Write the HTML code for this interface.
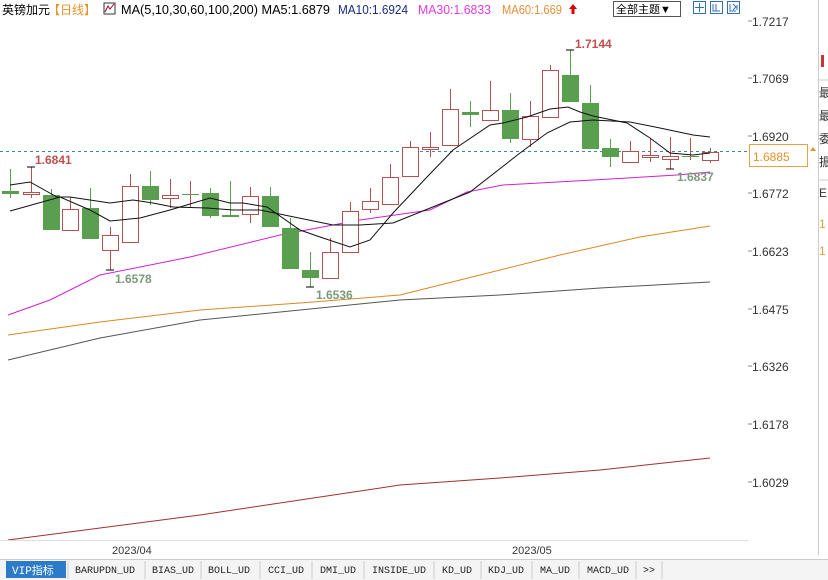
<!DOCTYPE html>
<html><head><meta charset="utf-8">
<style>
body{margin:0;width:828px;height:580px;overflow:hidden;background:#fff;font-family:"Liberation Sans","Noto Sans CJK SC",sans-serif;}
svg{position:absolute;left:0;top:0}
</style></head><body>
<svg id="s" width="828" height="580" xmlns="http://www.w3.org/2000/svg" font-family="Liberation Sans, Noto Sans CJK SC, sans-serif">
<rect x="0" y="0" width="828" height="580" fill="#fff"/>
<!-- header -->
<text x="2" y="14" font-size="12" fill="#000">英镑加元</text>
<text x="48" y="14" font-size="12" fill="#e8922a">【日线】</text>
<rect x="104" y="3" width="11" height="11" fill="none" stroke="#333" stroke-width="1"/>
<path d="M105 12 L108 6 L110 9 L114 4" stroke="#a03" fill="none"/>
<text x="121" y="14" font-size="13" fill="#000" textLength="209" lengthAdjust="spacingAndGlyphs">MA(5,10,30,60,100,200) MA5:1.6879</text>
<text x="338" y="14" font-size="13" fill="#1a2a80" textLength="70" lengthAdjust="spacingAndGlyphs">MA10:1.6924</text>
<text x="418" y="14" font-size="13" fill="#e23be0" textLength="73" lengthAdjust="spacingAndGlyphs">MA30:1.6833</text>
<text x="502" y="14" font-size="13" fill="#e0903a" textLength="60" lengthAdjust="spacingAndGlyphs">MA60:1.669</text>
<path d="M573 4 L577 9 L574.5 9 L574.5 14 L571.5 14 L571.5 9 L569 9 Z" fill="#d00"/>
<rect x="613.5" y="1.5" width="67" height="15" fill="#fff" stroke="#555"/>
<text x="616" y="13" font-size="11" fill="#000">全部主题▼</text>
<g stroke="#2f6fb8" fill="none">
<rect x="693.5" y="1.5" width="12" height="12"/><rect x="710.5" y="1.5" width="12" height="12"/><rect x="727.5" y="1.5" width="12" height="12"/>
<path d="M699.5 3v9M695 7.5h9M713 4v7h7M716 4v7M730 4v7h6M733 4l3 3-3 3M737 5v5"/>
</g>
<!-- right axis labels -->
<g font-size="12" fill="#333">
<text x="752" y="26">1.7217</text><text x="752" y="83">1.7069</text><text x="752" y="141">1.6920</text>
<text x="752" y="198">1.6772</text><text x="752" y="256">1.6623</text><text x="752" y="314">1.6475</text>
<text x="752" y="371">1.6326</text><text x="752" y="429">1.6178</text><text x="752" y="487">1.6029</text>
</g>
<g stroke="#888"><path d="M748 21h4M748 78h4M748 136h4M748 193h4M748 251h4M748 309h4M748 366h4M748 424h4M748 482h4"/></g>
<line x1="818.5" y1="0" x2="818.5" y2="555" stroke="#ccc"/>
<line x1="818" y1="80" x2="828" y2="80" stroke="#ccc"/>
<line x1="818" y1="180" x2="828" y2="180" stroke="#ccc"/>
<g font-size="12" fill="#333"><text x="819" y="97">最</text><text x="819" y="120">最</text><text x="819" y="143">委</text><text x="819" y="166">振</text><text x="819" y="197">E</text></g>
<g font-size="12" fill="#e0a040"><text x="819" y="228">1</text><text x="819" y="255">1</text></g>
<rect x="821" y="55" width="3" height="12" fill="#c33"/>
<!-- dashed current line -->
<line x1="0" y1="151.5" x2="748" y2="151.5" stroke="#3a8aa8" stroke-dasharray="3,3"/>
<rect x="749.5" y="144.5" width="58" height="22" fill="#fff" stroke="#e8a040"/>
<text x="753" y="161" font-size="12" fill="#e8922a">1.6885</text>
<path d="M810 151 l3 -4 l3 4z" fill="#e8922a"/>
<g id="c"></g>
<!-- labels -->
<g font-size="12" font-weight="bold">
<text x="35" y="164" fill="#c0504d">1.6841</text>
<text x="115" y="283" fill="#7a9a7a">1.6578</text>
<text x="316" y="299" fill="#7a9a7a">1.6536</text>
<text x="575" y="48" fill="#c0504d">1.7144</text>
<text x="677" y="181" fill="#7a9a7a">1.6837</text>
</g>
<!-- bottom -->
<line x1="0" y1="540.5" x2="748" y2="540.5" stroke="#ddd"/>
<text x="112" y="554" font-size="11" fill="#333">2023/04</text>
<text x="512" y="554" font-size="11" fill="#333">2023/05</text>
<rect x="0" y="559" width="828" height="21" fill="#f4f4f4"/>
<line x1="0" y1="559.5" x2="828" y2="559.5" stroke="#ccc"/>
<rect x="6" y="561" width="60" height="17" fill="#2b7bc8"/>
<text x="12" y="574" font-size="11" fill="#fff" font-family="Liberation Mono, Noto Sans CJK SC, monospace">VIP指标</text>
<g font-size="10" fill="#222" font-family="Liberation Mono, monospace">
<text x="75" y="573">BARUPDN_UD</text><text x="152" y="573">BIAS_UD</text><text x="208" y="573">BOLL_UD</text>
<text x="268" y="573">CCI_UD</text><text x="320" y="573">DMI_UD</text><text x="372" y="573">INSIDE_UD</text>
<text x="442" y="573">KD_UD</text><text x="488" y="573">KDJ_UD</text><text x="540" y="573">MA_UD</text>
<text x="587" y="573">MACD_UD</text><text x="643" y="573">&gt;&gt;</text>
</g>
<g stroke="#ccc"><path d="M68 561v18M145 561v18M201 561v18M260 561v18M312 561v18M364 561v18M434 561v18M481 561v18M532 561v18M579 561v18M636 561v18M662 561v18"/></g>
</svg>
<script>
var C=[[10,0,191,194,169,198],[31,1,192,194,167,198],[51,0,195,230,189,230],[70,1,209,230,197,230],[90,0,208,239,188,239],[110,1,235,250,227,270],[130,1,186,242,174,242],[150,0,186,200,171,205],[170,1,195,198,179,208],[190,2,194,194,181,207],[210,0,193,216,188,218],[230,0,215,217,181,217],[250,1,196,214,187,223],[270,0,196,227,187,227],[290,0,228,269,218,269],[310,0,270,278,252,287],[330,1,252,278,238,278],[350,1,211,252,202,252],[370,1,201,209,188,213],[390,1,177,204,164,204],[410,1,147,176,141,176],[430,1,147,149,132,157],[450,1,109,145,89,145],[470,0,112,115,101,127],[490,1,110,120,81,120],[510,0,110,139,93,143],[530,1,116,139,101,147],[550,1,70,117,65,117],[570,0,75,102,50,102],[590,0,103,149,85,149],[610,0,148,157,139,167],[630,1,151,162,141,162],[650,1,155,157,139,162],[670,1,156,159,137,169],[690,2,156,156,138,160],[710,1,152,160,148,163]];
var h='';
function L(p,c,w){h+='<polyline fill="none" stroke="'+c+'" stroke-width="'+(w||1)+'" points="'+p+'"/>';}
L('8,540 100,528 200,515 300,500 400,485 500,478 600,470 710,458','#a03030');
L('8,360 100,338 200,320 300,310 400,300 500,295 600,288 710,282','#555');
L('8,335 100,322 200,310 300,303 400,295 500,270 560,255 640,237 710,226','#d88a20');
L('8,315 50,300 100,275 190,257 280,235 333,225 360,220 430,210 467,192 503,185 593,180 677,175 710,172','#d020d0');
C.forEach(function(c){var x=c[0],r=c[1];
h+='<line x1="'+(x+.5)+'" y1="'+c[4]+'" x2="'+(x+.5)+'" y2="'+c[5]+'" stroke="'+(r==0?'#5a9e4f':'#b5514f')+'"/>';
var hh=Math.max(c[3]-c[2],1);
if(r==0)h+='<rect x="'+(x-8)+'" y="'+c[2]+'" width="17" height="'+hh+'" fill="#5a9e4f"/>';
else if(r==1)h+='<rect x="'+(x-7.5)+'" y="'+(c[2]+.5)+'" width="16" height="'+hh+'" fill="#fff" stroke="#b5514f"/>';
else h+='<line x1="'+(x-8)+'" y1="'+(c[2]+.5)+'" x2="'+(x+9)+'" y2="'+(c[2]+.5)+'" stroke="#5a9e4f"/>';});
L('10,185 30,182 57,197 70,197 110,203 133,200 153,203 173,207 207,208 233,210 260,210 333,225 360,225 393,223 470,192 520,153 547,133 570,122 593,120 630,122 660,128 693,135 710,137','#111');
L('10,211 60,197 90,210 110,221 140,218 170,210 210,198 230,203 243,203 267,207 300,230 320,237 350,247 370,240 393,213 427,177 453,150 490,125 503,123 527,117 550,109 568,107 580,112 593,116 627,123 650,138 670,153 693,155 710,153','#111');
h+='<path d="M27 167h8M106 270h8M306 287h8M566 50h8M666 169h8" stroke="#000"/>';
document.getElementById('c').innerHTML=h;
</script>
</body></html>
